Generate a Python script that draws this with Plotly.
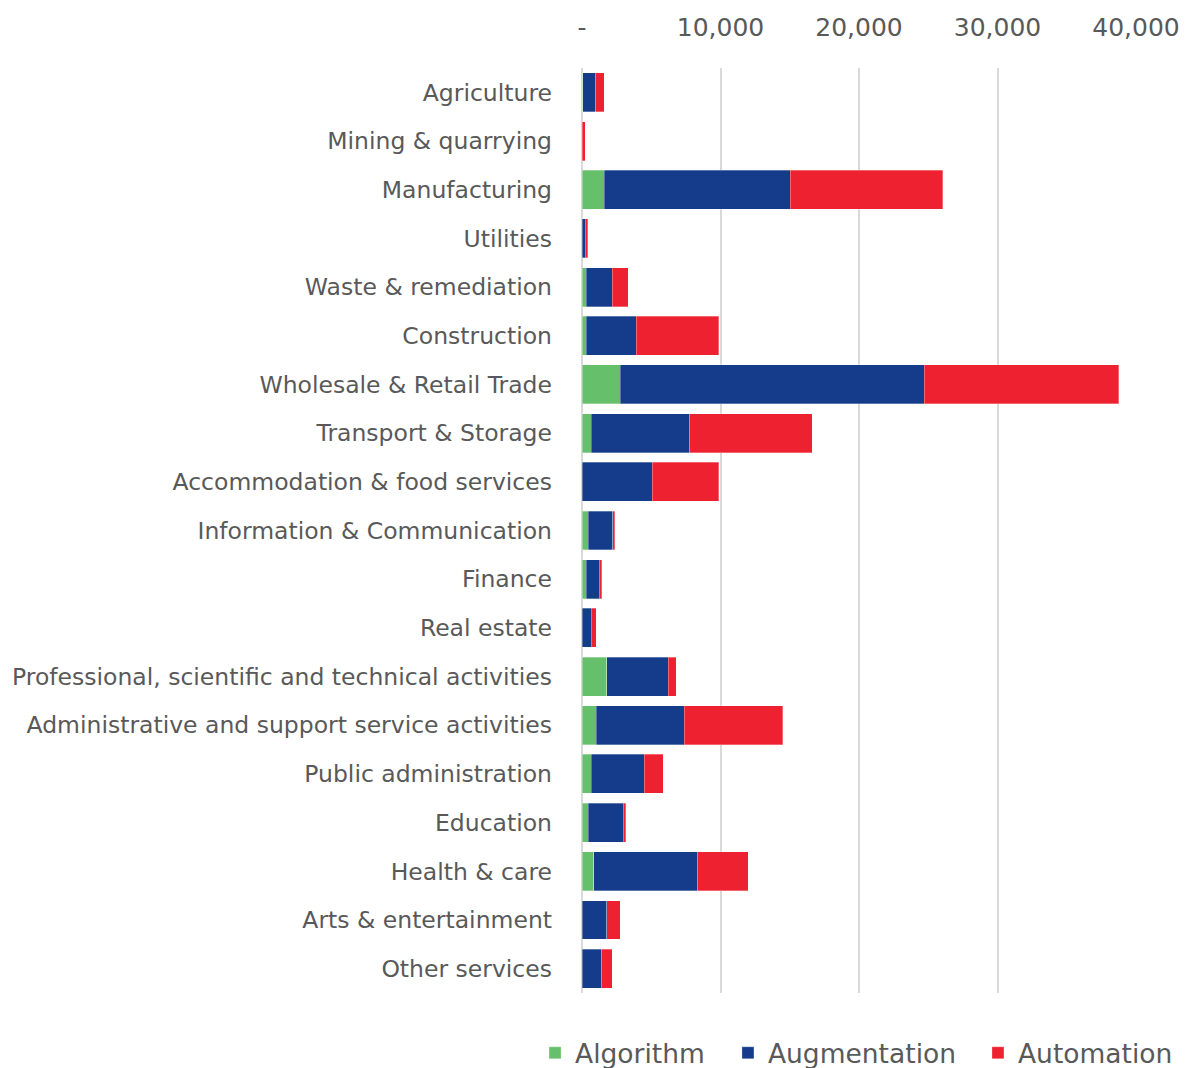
import plotly.graph_objects as go

categories = [
    "Agriculture", "Mining & quarrying", "Manufacturing", "Utilities",
    "Waste & remediation", "Construction", "Wholesale & Retail Trade",
    "Transport & Storage", "Accommodation & food services",
    "Information & Communication", "Finance", "Real estate",
    "Professional, scientific and technical activities",
    "Administrative and support service activities",
    "Public administration", "Education", "Health & care",
    "Arts & entertainment", "Other services",
]
algorithm = [50, 0, 1600, 10, 290, 290, 2750, 650, 30, 450, 290, 30,
             1800, 1030, 650, 450, 840, 30, 30]
augmentation = [950, 20, 13450, 230, 1900, 3630, 21950, 7120, 5050, 1760, 940, 620,
                4430, 6360, 3850, 2510, 7510, 1750, 1390]
automation = [600, 200, 11000, 190, 1150, 5970, 14050, 8860, 4810, 170, 190, 380,
              580, 7120, 1350, 190, 3660, 980, 770]

tick_vals = [0, 10000, 20000, 30000, 40000]
tick_text = ["-", "10,000", "20,000", "30,000", "40,000"]

series = [
    ("Algorithm", algorithm, "#66BF6A", "legend", 0.4429),
    ("Augmentation", augmentation, "#143C8A", "legend2", 0.605),
    ("Automation", automation, "#EE2130", "legend3", 0.8151),
]

fig = go.Figure()
for name, vals, color, leg, _ in series:
    fig.add_trace(go.Bar(
        y=categories, x=vals, name=name, orientation="h", legend=leg,
        showlegend=True,
        marker=dict(color=color, line=dict(width=0.6, color="rgba(255,255,255,0.5)")),
    ))

font_family = "DejaVu Sans, sans-serif"
legend_font = dict(size=26.5, color="#595959", family=font_family)
leg_layout = {}
for name, vals, color, leg, lx in series:
    leg_layout[leg] = dict(orientation="h", xref="container", yref="container",
                           x=lx, xanchor="left", y=0.0215, yanchor="middle",
                           font=legend_font, itemwidth=30, visible=True,
                           bgcolor="rgba(0,0,0,0)")

fig.update_layout(
    barmode="stack",
    bargap=0.2,
    showlegend=True,
    width=1190, height=1068,
    margin=dict(l=574, r=62, t=60, b=83, autoexpand=False),
    paper_bgcolor="white", plot_bgcolor="white",
    font=dict(family=font_family, color="#595959", size=23.5),
    xaxis=dict(side="top", range=[0, 40000], tickvals=tick_vals, ticktext=tick_text,
               showgrid=True, gridcolor="#D9D9D9", gridwidth=2,
               zeroline=True, zerolinecolor="#D9D9D9", zerolinewidth=2,
               showline=False, tickfont=dict(size=25, color="#595959"),
               ticklabelstandoff=26, automargin=False),
    yaxis=dict(autorange="reversed", showgrid=False, showline=False,
               tickfont=dict(size=23.5, color="#595959"), ticklabelstandoff=29,
               automargin=False),
    **leg_layout,
)

fig.write_html("out.html")
